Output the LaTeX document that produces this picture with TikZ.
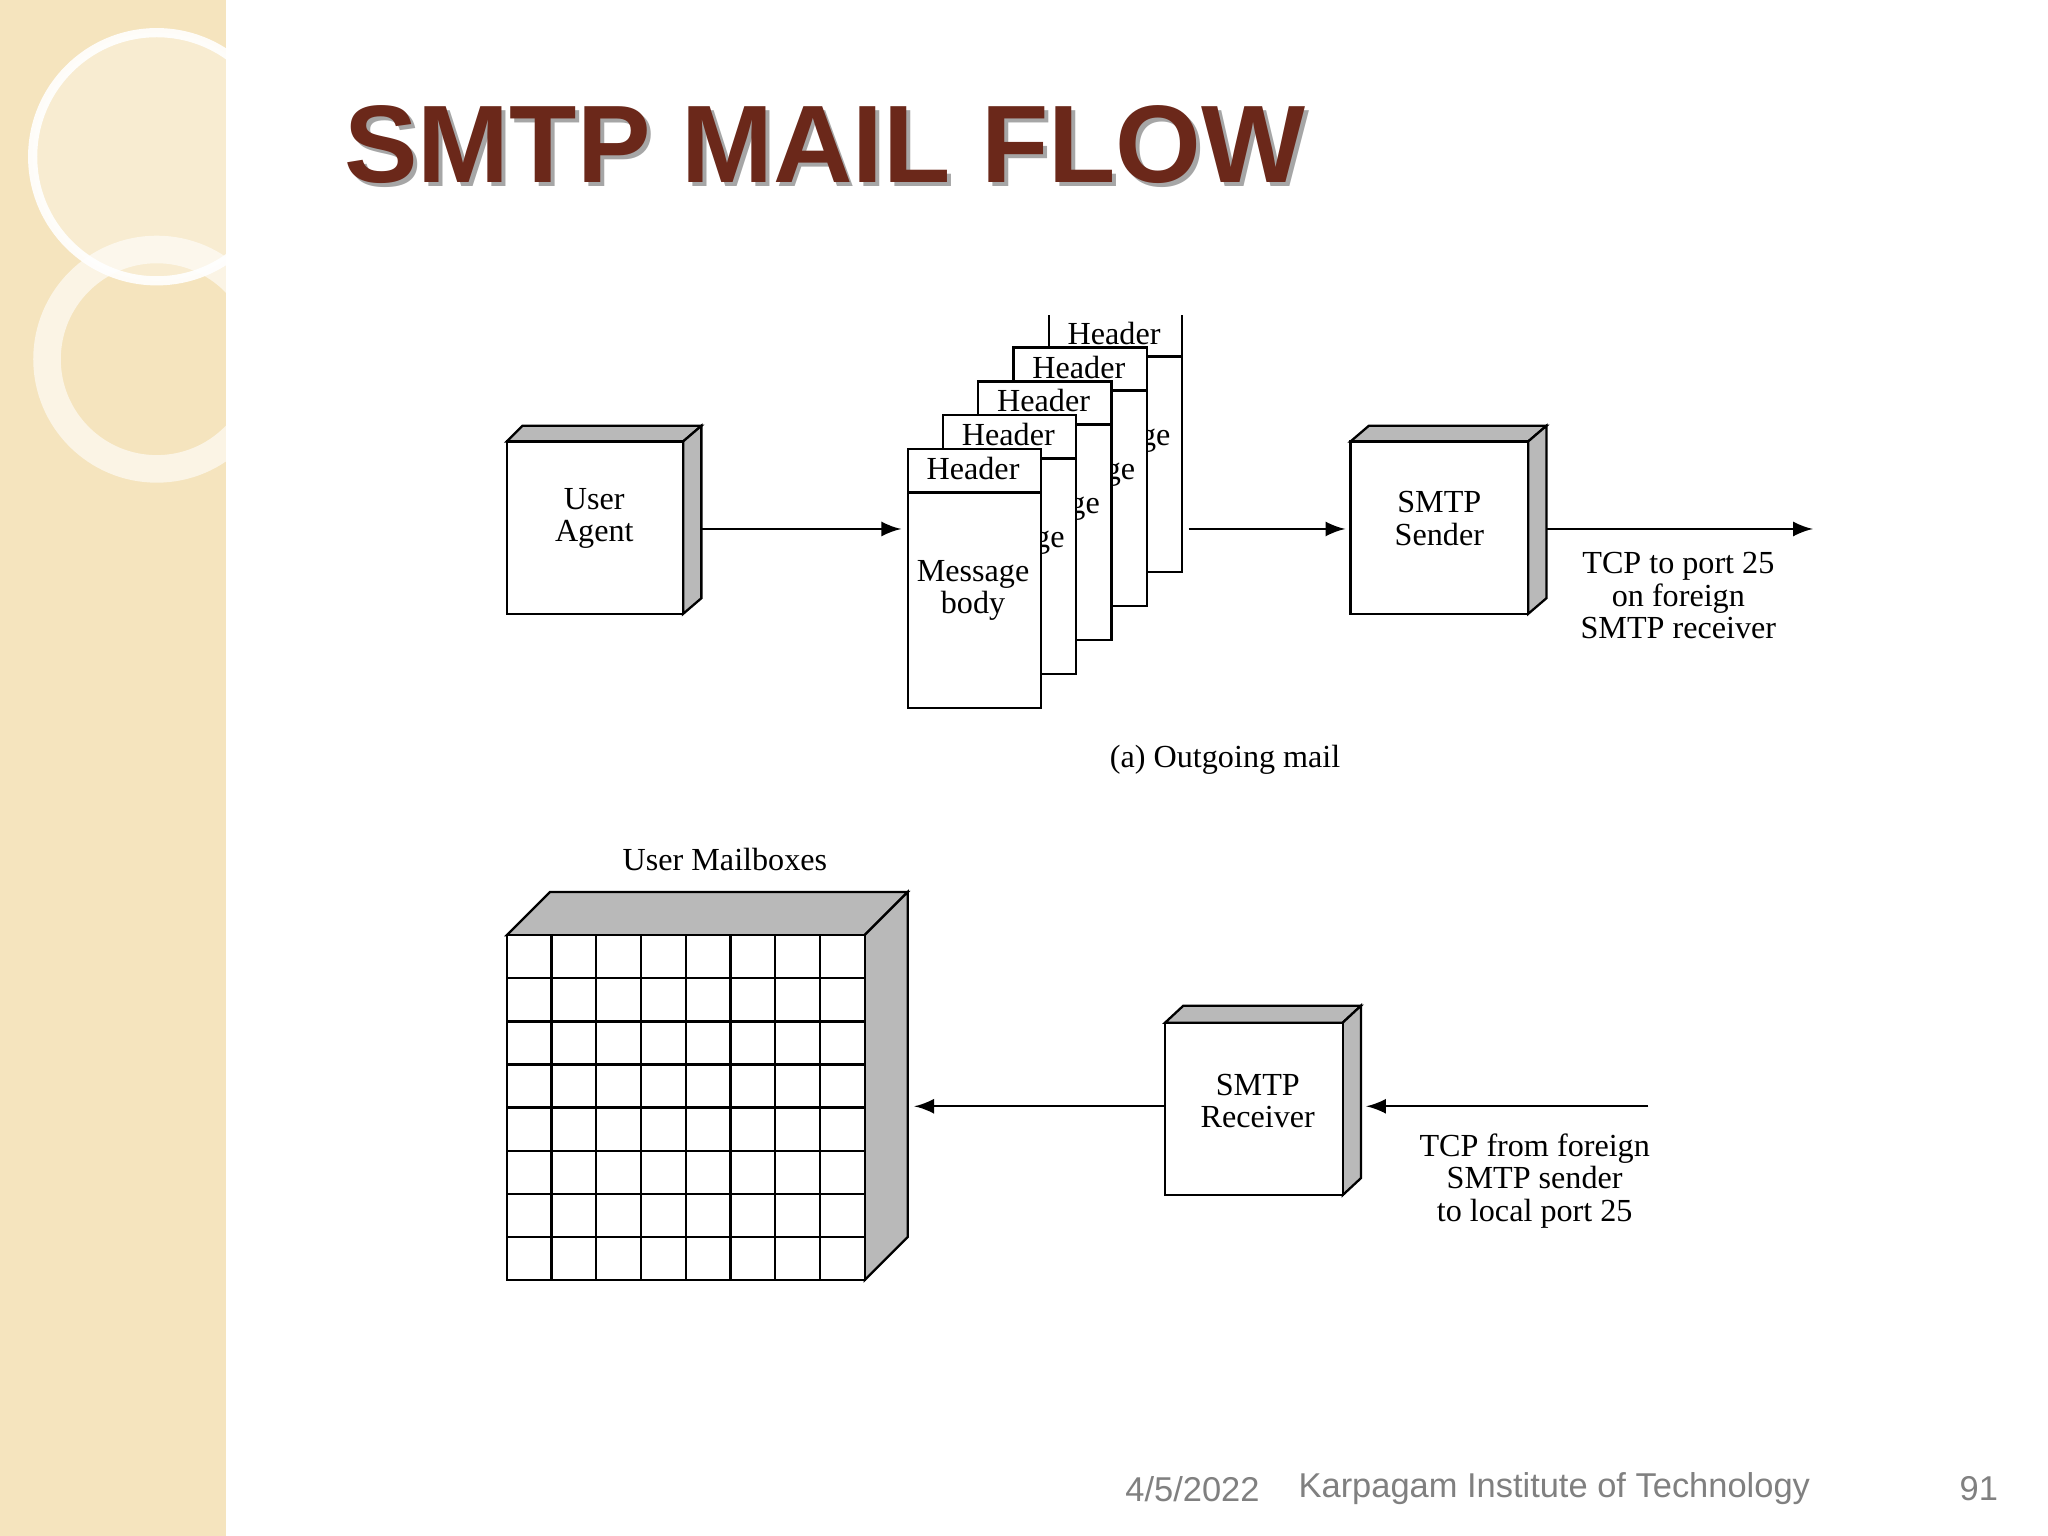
\documentclass[tikz,border=0pt]{standalone}
\usepackage{fontspec}
\setmainfont{Liberation Serif}
\newfontfamily\titlefont{Liberation Sans}
\definecolor{band}{RGB}{245,228,190}
\definecolor{titlec}{RGB}{107,40,26}
\begin{document}
\begin{tikzpicture}[x=0.01cm,y=-0.01cm,
  lbl/.style={align=center,font=\fontsize{7}{7.1}\selectfont,inner sep=0pt},
  ln/.style={line width=0.5pt},
  arr/.style={ln,-latex},
  shade3d/.style={fill=gray!55,draw=black,line width=0.5pt}]
\useasboundingbox (0,0) rectangle (1568,1176);
\fill[white] (0,0) rectangle (1568,1176);
% left band
\fill[band] (0,0) rectangle (173,1176);
\begin{scope}
\clip (0,0) rectangle (173,1176);
\fill[white,opacity=0.3] (120,120) circle (95);
\draw[white,line width=2pt,opacity=0.9] (120,120) circle (95);
\draw[white,line width=6pt,opacity=0.6] (120,275) circle (84);
\end{scope}
% title
\node[anchor=base west,font=\titlefont\bfseries\fontsize{24}{24}\selectfont,text=black!35,inner sep=0] at (266,143) {SMTP MAIL FLOW};
\node[anchor=base west,font=\titlefont\bfseries\fontsize{24}{24}\selectfont,text=titlec,inner sep=0] (title) at (263,140) {SMTP MAIL FLOW};
% user agent box
\fill[shade3d] (388,338) -- (400,326) -- (537,326) -- (523,338) -- cycle;
\fill[shade3d] (523,338) -- (537,326) -- (537,458) -- (523,470) -- cycle;
\draw[ln,fill=white] (388,338) rectangle (523,470);
\node[lbl] (ua) at (455,397) {User\\Agent};
\coordinate (uaR) at (537,405);
% message stack
\foreach \i in {4,3,2,1,0}{
  \begin{scope}[shift={(27*\i,-26*\i)}]
    \draw[ln,fill=white] (695,344) rectangle (797,542);
    \draw[ln] (695,377) -- (797,377);
    \node[lbl] at (745,359) {Header};
    \node[lbl] at (745,452) {Message\\body};
  \end{scope}}
\fill[white] (780,200) rectangle (930,241);
\coordinate (msgL) at (690,405);
\coordinate (msgR) at (910,405);
\draw[arr] (uaR) -- (msgL);
% smtp sender
\fill[shade3d] (1034,338) -- (1048,326) -- (1184,326) -- (1170,338) -- cycle;
\fill[shade3d] (1170,338) -- (1184,326) -- (1184,458) -- (1170,470) -- cycle;
\draw[ln,fill=white] (1034,338) rectangle (1170,470);
\node[lbl] (snd) at (1102,397) {SMTP\\Sender};
\coordinate (sndL) at (1030,405);
\coordinate (sndR) at (1184,405);
\coordinate (out) at (1388,405);
\draw[arr] (msgR) -- (sndL);
\draw[arr] (sndR) -- (out);
\node[lbl] (tcp1) at (1285,456) {TCP to port 25\\on foreign\\SMTP receiver};
\node[lbl] (cap) at (938,582) {(a) Outgoing mail};
% mailboxes
\node[lbl] (mbl) at (555,658) {User Mailboxes};
\fill[shade3d] (388,716) -- (421,683) -- (695,683) -- (662,716) -- cycle;
\fill[shade3d] (662,716) -- (695,683) -- (695,947) -- (662,980) -- cycle;
\draw[ln,fill=white] (388,716) rectangle (662,980);
\foreach \k in {1,...,7}{
  \draw[ln] (388+34.25*\k,716) -- (388+34.25*\k,980);
  \draw[ln] (388,716+33*\k) -- (662,716+33*\k);}
\coordinate (mbR) at (700,847);
% smtp receiver
\fill[shade3d] (892,783) -- (906,770) -- (1042,770) -- (1028,783) -- cycle;
\fill[shade3d] (1028,783) -- (1042,770) -- (1042,902) -- (1028,915) -- cycle;
\draw[ln,fill=white] (892,783) rectangle (1028,915);
\node[lbl] (rcv) at (963,843) {SMTP\\Receiver};
\coordinate (rcvL) at (892,847);
\coordinate (rcvR) at (1046,847);
\coordinate (in) at (1262,847);
\draw[arr] (in) -- (rcvR);
\draw[arr] (rcvL) -- (mbR);
\node[lbl] (tcp2) at (1175,904) {TCP from foreign\\SMTP sender\\to local port 25};
% footer
\begin{scope}[every node/.style={font=\titlefont\fontsize{7.5}{7.5}\selectfont,text=gray,inner sep=0}]
\node (d) at (913,1140) {4/5/2022};
\node (k) at (1190,1140) {Karpagam Institute of Technology};
\node (p) at (1515,1140) {91};
\end{scope}
\end{tikzpicture}
\end{document}
